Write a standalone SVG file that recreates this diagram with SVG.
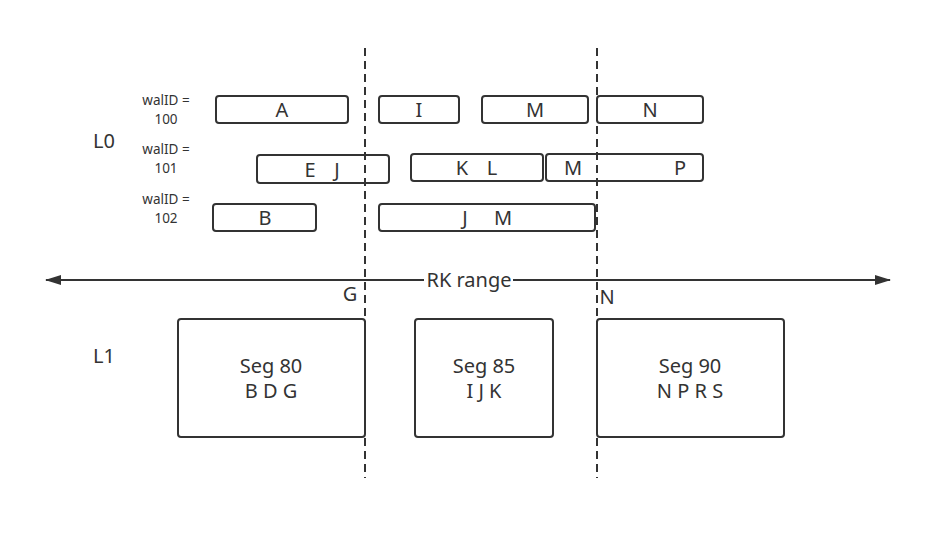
<svg xmlns="http://www.w3.org/2000/svg" width="950" height="544" viewBox="0 0 950 544">
<style>
.box{fill:#fff;stroke:#333;stroke-width:2}
.dash{stroke:#333;stroke-width:2;stroke-dasharray:8 5;fill:none}
text{font-family:"Noto Sans","Open Sans",sans-serif;fill:#333}
.t{font-size:20px;text-anchor:middle}
.s{font-size:13.5px;text-anchor:middle}
.l{font-size:20px}
</style>
<defs>
<marker id="ah" markerWidth="16" markerHeight="10" refX="15" refY="5" orient="auto-start-reverse" markerUnits="userSpaceOnUse">
<path d="M0,0 L16,5 L0,10 Z" fill="#333"/>
</marker>
</defs>
<rect width="950" height="544" fill="#fff"/>
<g id="labels">
<text class="l" x="93" y="148">L0</text>
<text class="l" x="93" y="363">L1</text>
<text class="s" x="166" y="105">walID =</text>
<text class="s" x="166" y="124">100</text>
<text class="s" x="166" y="154">walID =</text>
<text class="s" x="166" y="173">101</text>
<text class="s" x="166" y="204">walID =</text>
<text class="s" x="166" y="223">102</text>
</g>
<g id="node-A"><rect class="box" x="216" y="96" width="132" height="27" rx="3"/><text class="t" x="282" y="117">A</text></g>
<g id="node-I"><rect class="box" x="379" y="96" width="80" height="27" rx="3"/><text class="t" x="419" y="117">I</text></g>
<g id="node-M1"><rect class="box" x="482" y="96" width="106" height="27" rx="3"/><text class="t" x="535" y="117">M</text></g>
<g id="node-N"><rect class="box" x="597" y="96" width="106" height="27" rx="3"/><text class="t" x="650" y="117">N</text></g>
<g id="node-EJ"><rect class="box" x="257" y="155" width="132" height="28" rx="3"/><text class="t" x="310" y="177">E</text><text class="t" x="337" y="177">J</text></g>
<g id="node-KL"><rect class="box" x="411" y="154" width="132" height="27" rx="3"/><text class="t" x="462" y="175">K</text><text class="t" x="492" y="175">L</text></g>
<g id="node-MP"><rect class="box" x="546" y="154" width="157" height="27" rx="3"/><text class="t" x="573" y="175">M</text><text class="t" x="680" y="175">P</text></g>
<g id="node-B"><rect class="box" x="213" y="204" width="103" height="27" rx="3"/><text class="t" x="265" y="225">B</text></g>
<g id="node-JM"><rect class="box" x="379" y="204" width="216" height="27" rx="3"/><text class="t" x="465" y="225">J</text><text class="t" x="503" y="225">M</text></g>
<g id="node-seg80"><rect class="box" x="178" y="319" width="187" height="118" rx="3"/><text class="t" x="271" y="373">Seg 80</text><text class="t" x="271" y="398">B D G</text></g>
<g id="node-seg85"><rect class="box" x="415" y="319" width="138" height="118" rx="3"/><text class="t" x="484" y="373">Seg 85</text><text class="t" x="484" y="398">I J K</text></g>
<g id="node-seg90"><rect class="box" x="597" y="319" width="187" height="118" rx="3"/><text class="t" x="690" y="373">Seg 90</text><text class="t" x="690" y="398">N P R S</text></g>
<g id="connectors">
<line class="dash" x1="365" y1="48" x2="365" y2="478"/>
<line class="dash" x1="597" y1="48" x2="597" y2="478"/>
<line x1="46" y1="280" x2="890" y2="280" stroke="#333" stroke-width="2" marker-start="url(#ah)" marker-end="url(#ah)"/>
<rect x="424" y="268" width="89" height="24" fill="#fff"/>
<text class="t" x="469" y="287">RK range</text>
<text class="t" x="350" y="301">G</text>
<text class="t" x="607" y="304">N</text>
</g>
</svg>
